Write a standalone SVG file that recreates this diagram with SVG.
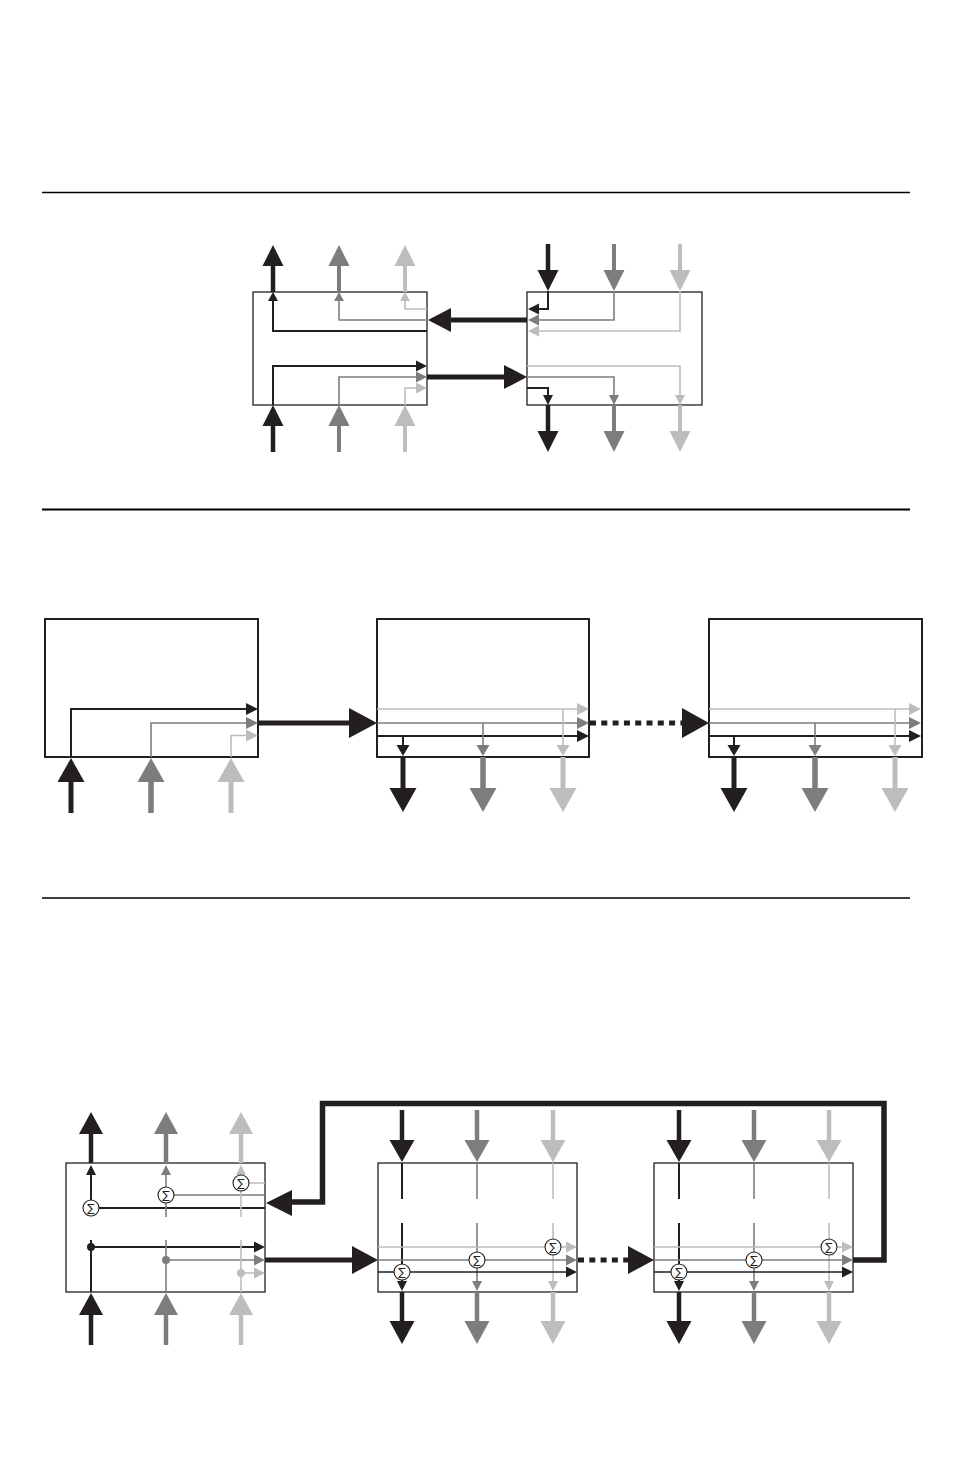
<svg xmlns="http://www.w3.org/2000/svg" width="954" height="1474" viewBox="0 0 954 1474">
<style>
.bx{fill:none;stroke:#231f20;stroke-width:1.3}
.bx2{fill:none;stroke:#231f20;stroke-width:2}
.k{stroke:#231f20;fill:none}
.g{stroke:#7d7d7d;fill:none}
.l{stroke:#bdbdbd;fill:none}
.fk{fill:#231f20}
.fg{fill:#7d7d7d}
.fl{fill:#bdbdbd}
.t{stroke-width:1.6}
.tk{stroke-width:2}
.sh{stroke-width:4.5}
.shl{stroke-width:4}
.fb{stroke-width:5.5;stroke-linejoin:miter}
.dot{stroke-dasharray:6 5.3}
.sig circle{fill:#fff;stroke:#231f20;stroke-width:1.1}
.sig text{font-family:"DejaVu Sans",sans-serif;font-size:11px;fill:#231f20;text-anchor:middle}
.rule{stroke:#000}
</style>
<defs>
<g id="sg" class="sig"><circle cx="0" cy="0" r="8"/><text x="0" y="4">∑</text></g>
</defs>

<g id="rules">
<line class="rule" x1="42" y1="192.5" x2="910" y2="192.5" stroke-width="1.3"/>
<line class="rule" x1="42" y1="509.5" x2="910" y2="509.5" stroke-width="2"/>
<line class="rule" x1="42" y1="898" x2="910" y2="898" stroke-width="1.3"/>
</g>

<!-- ================= SECTION 1 ================= -->
<g id="s1-node1">
<rect class="bx" x="253" y="292" width="174" height="113"/>
<path class="k tk" d="M273,301 V331 H427"/>
<path class="g t" d="M339,301 V320 H427"/>
<path class="l t" d="M405,301 V309 H427"/>
<polygon class="fk" points="273,292 268,301 278,301"/>
<polygon class="fg" points="339,292 334,301 344,301"/>
<polygon class="fl" points="405,292 400,301 410,301"/>
<path class="k tk" d="M273,405 V366 H417"/>
<path class="g t" d="M339,405 V377 H417"/>
<path class="l t" d="M405,405 V388 H417"/>
<polygon class="fk" points="427,366 416,360.5 416,371.5"/>
<polygon class="fg" points="427,377 416,371.5 416,382.5"/>
<polygon class="fl" points="427,388 416,382.5 416,393.5"/>
</g>
<g id="s1-node2">
<rect class="bx" x="527" y="292" width="175" height="113"/>
<path class="k tk" d="M548,291 V309 H537"/>
<path class="g t" d="M614,291 V320 H537"/>
<path class="l t" d="M680,291 V331 H537"/>
<polygon class="fk" points="528,309 539,303.5 539,314.5"/>
<polygon class="fg" points="528,320 539,314.5 539,325.5"/>
<polygon class="fl" points="528,331 539,325.5 539,336.5"/>
<path class="l t" d="M527,366 H680 V396"/>
<path class="g t" d="M527,377 H614 V396"/>
<path class="k tk" d="M527,388 H548 V396"/>
<polygon class="fl" points="680,405 675,395 685,395"/>
<polygon class="fg" points="614,405 609,395 619,395"/>
<polygon class="fk" points="548,405 543,395 553,395"/>
</g>
<g id="s1-connectors">
<path class="k sh" d="M273,292 V264"/><polygon class="fk" points="273,245 262.5,266 283.5,266"/>
<path class="g shl" d="M339,292 V264"/><polygon class="fg" points="339,245 328.5,266 349.5,266"/>
<path class="l shl" d="M405,292 V264"/><polygon class="fl" points="405,245 394.5,266 415.5,266"/>
<path class="k sh" d="M273,452 V424"/><polygon class="fk" points="273,405 262.5,426 283.5,426"/>
<path class="g shl" d="M339,452 V424"/><polygon class="fg" points="339,405 328.5,426 349.5,426"/>
<path class="l shl" d="M405,452 V424"/><polygon class="fl" points="405,405 394.5,426 415.5,426"/>
<path class="k sh" d="M548,244 V272"/><polygon class="fk" points="548,291 537.5,270 558.5,270"/>
<path class="g shl" d="M614,244 V272"/><polygon class="fg" points="614,291 603.5,270 624.5,270"/>
<path class="l shl" d="M680,244 V272"/><polygon class="fl" points="680,291 669.5,270 690.5,270"/>
<path class="k sh" d="M548,405 V434"/><polygon class="fk" points="548,452 537.5,431 558.5,431"/>
<path class="g shl" d="M614,405 V434"/><polygon class="fg" points="614,452 603.5,431 624.5,431"/>
<path class="l shl" d="M680,405 V434"/><polygon class="fl" points="680,452 669.5,431 690.5,431"/>
<path class="k" stroke-width="5" d="M449,320 H527"/><polygon class="fk" points="428,320 451,308 451,332"/>
<path class="k" stroke-width="5" d="M427,377 H506"/><polygon class="fk" points="527,377 504,365 504,389"/>
</g>

<!-- ================= SECTION 2 ================= -->
<g id="s2-node1">
<rect class="bx2" x="45" y="619" width="213" height="138"/>
<path class="k tk" d="M71,757 V709 H247"/>
<path class="g t" d="M151,757 V723 H247"/>
<path class="l t" d="M231,757 V735.5 H247"/>
<polygon class="fk" points="258,709 246,703 246,715"/>
<polygon class="fg" points="258,723 246,717 246,729"/>
<polygon class="fl" points="258,735.5 246,729.5 246,741.5"/>
</g>
<g id="s2-node2">
<rect class="bx2" x="377" y="619" width="212" height="138"/>
<path class="l t" d="M377,709 H578"/>
<path class="g t" d="M377,723 H578"/>
<path class="k tk" d="M377,736 H578"/>
<polygon class="fl" points="589,709 577,703 577,715"/>
<polygon class="fg" points="589,723 577,717 577,729"/>
<polygon class="fk" points="589,736 577,730 577,742"/>
<path class="l t" d="M563,709 V746"/><polygon class="fl" points="563,756 556.5,745 569.5,745"/>
<path class="g t" d="M483,723 V746"/><polygon class="fg" points="483,756 476.5,745 489.5,745"/>
<path class="k tk" d="M403,736 V746"/><polygon class="fk" points="403,756 396.5,745 409.5,745"/>
</g>
<g id="s2-node3">
<rect class="bx2" x="709" y="619" width="213" height="138"/>
<path class="l t" d="M709,709 H910"/>
<path class="g t" d="M709,723 H910"/>
<path class="k tk" d="M709,736 H910"/>
<polygon class="fl" points="921,709 909,703 909,715"/>
<polygon class="fg" points="921,723 909,717 909,729"/>
<polygon class="fk" points="921,736 909,730 909,742"/>
<path class="l t" d="M895,709 V746"/><polygon class="fl" points="895,756 888.5,745 901.5,745"/>
<path class="g t" d="M815,723 V746"/><polygon class="fg" points="815,756 808.5,745 821.5,745"/>
<path class="k tk" d="M734,736 V746"/><polygon class="fk" points="734,756 727.5,745 740.5,745"/>
</g>
<g id="s2-connectors">
<path class="k" stroke-width="5" d="M71,813 V780"/><polygon class="fk" points="71,758 57.5,782 84.5,782"/>
<path class="g" stroke-width="5.5" d="M151,813 V780"/><polygon class="fg" points="151,758 137.5,782 164.5,782"/>
<path class="l" stroke-width="5" d="M231,813 V780"/><polygon class="fl" points="231,758 217.5,782 244.5,782"/>
<path class="k" stroke-width="5" d="M403,757 V790"/><polygon class="fk" points="403,812 389.5,788 416.5,788"/>
<path class="g" stroke-width="5.5" d="M483,757 V790"/><polygon class="fg" points="483,812 469.5,788 496.5,788"/>
<path class="l" stroke-width="5" d="M563,757 V790"/><polygon class="fl" points="563,812 549.5,788 576.5,788"/>
<path class="k" stroke-width="5" d="M734,757 V790"/><polygon class="fk" points="734,812 720.5,788 747.5,788"/>
<path class="g" stroke-width="5.5" d="M815,757 V790"/><polygon class="fg" points="815,812 801.5,788 828.5,788"/>
<path class="l" stroke-width="5" d="M895,757 V790"/><polygon class="fl" points="895,812 881.5,788 908.5,788"/>
<path class="k" stroke-width="5" d="M258,723 H351"/><polygon class="fk" points="377,723 349,708 349,738"/>
<path class="k dot" stroke-width="5" d="M590,723 H683"/><polygon class="fk" points="709,723 682,708 682,738"/>
</g>

<!-- ================= SECTION 3 ================= -->
<g id="s3-node1">
<rect class="bx" x="66" y="1163" width="199" height="129"/>
<path class="k tk" d="M91,1175 V1208 H265"/>
<path class="g t" d="M166,1175 V1217 M166,1195 H265"/>
<path class="l t" d="M241,1175 V1217 M241,1183 H265"/>
<polygon class="fk" points="91,1165 86,1175 96,1175"/>
<polygon class="fg" points="166,1165 161,1175 171,1175"/>
<polygon class="fl" points="241,1165 236,1175 246,1175"/>
<use href="#sg" x="91" y="1208"/>
<use href="#sg" x="166" y="1195"/>
<use href="#sg" x="241" y="1183"/>
<path class="k tk" d="M91,1240 V1292 M91,1247 H255"/>
<path class="g t" d="M166,1240 V1292 M166,1260 H255"/>
<path class="l t" d="M241,1240 V1292 M241,1273 H255"/>
<circle class="fk" cx="91" cy="1247" r="4"/>
<circle class="fg" cx="166" cy="1260" r="4"/>
<circle class="fl" cx="241" cy="1273" r="4"/>
<polygon class="fk" points="265,1247 254,1241.5 254,1252.5"/>
<polygon class="fg" points="265,1260 254,1254.5 254,1265.5"/>
<polygon class="fl" points="265,1273 254,1267.5 254,1278.5"/>
</g>
<g id="s3-node2">
<rect class="bx" x="378" y="1163" width="199" height="129"/>
<path class="k tk" d="M402,1163 V1199 M402,1223 V1282"/>
<path class="g t" d="M477,1163 V1199 M477,1223 V1282"/>
<path class="l t" d="M553,1163 V1199 M553,1223 V1282"/>
<path class="l t" d="M378,1247 H566"/>
<path class="g t" d="M378,1260 H566"/>
<path class="k t" d="M378,1272 H566"/>
<polygon class="fl" points="577,1247 566,1241.5 566,1252.5"/>
<polygon class="fg" points="577,1260 566,1254.5 566,1265.5"/>
<polygon class="fk" points="577,1272 566,1266.5 566,1277.5"/>
<polygon class="fk" points="402,1291 397,1281 407,1281"/>
<polygon class="fg" points="477,1291 472,1281 482,1281"/>
<polygon class="fl" points="553,1291 548,1281 558,1281"/>
<use href="#sg" x="553" y="1247"/>
<use href="#sg" x="477" y="1260"/>
<use href="#sg" x="402" y="1272"/>
</g>
<g id="s3-node3">
<rect class="bx" x="654" y="1163" width="199" height="129"/>
<path class="k tk" d="M679,1163 V1199 M679,1223 V1282"/>
<path class="g t" d="M754,1163 V1199 M754,1223 V1282"/>
<path class="l t" d="M829,1163 V1199 M829,1223 V1282"/>
<path class="l t" d="M654,1247 H842"/>
<path class="g t" d="M654,1260 H842"/>
<path class="k t" d="M654,1272 H842"/>
<polygon class="fl" points="853,1247 842,1241.5 842,1252.5"/>
<polygon class="fg" points="853,1260 842,1254.5 842,1265.5"/>
<polygon class="fk" points="853,1272 842,1266.5 842,1277.5"/>
<polygon class="fk" points="679,1291 674,1281 684,1281"/>
<polygon class="fg" points="754,1291 749,1281 759,1281"/>
<polygon class="fl" points="829,1291 824,1281 834,1281"/>
<use href="#sg" x="829" y="1247"/>
<use href="#sg" x="754" y="1260"/>
<use href="#sg" x="679" y="1272"/>
</g>
<g id="s3-connectors">
<path class="k" stroke-width="4.5" d="M91,1163 V1131"/><polygon class="fk" points="91,1112 79,1134 103,1134"/>
<path class="g" stroke-width="4.5" d="M166,1163 V1131"/><polygon class="fg" points="166,1112 154,1134 178,1134"/>
<path class="l" stroke-width="4.5" d="M241,1163 V1131"/><polygon class="fl" points="241,1112 229,1134 253,1134"/>
<path class="k" stroke-width="4.5" d="M91,1345 V1313"/><polygon class="fk" points="91,1293 79,1315 103,1315"/>
<path class="g" stroke-width="4.5" d="M166,1345 V1313"/><polygon class="fg" points="166,1293 154,1315 178,1315"/>
<path class="l" stroke-width="4.5" d="M241,1345 V1313"/><polygon class="fl" points="241,1293 229,1315 253,1315"/>

<path class="k" stroke-width="4.5" d="M402,1110 V1142"/><polygon class="fk" points="402,1162 389.5,1140 414.5,1140"/>
<path class="g" stroke-width="4.5" d="M477,1110 V1142"/><polygon class="fg" points="477,1162 464.5,1140 489.5,1140"/>
<path class="l" stroke-width="4.5" d="M553,1110 V1142"/><polygon class="fl" points="553,1162 540.5,1140 565.5,1140"/>
<path class="k" stroke-width="4.5" d="M402,1292 V1323"/><polygon class="fk" points="402,1344 389.5,1321 414.5,1321"/>
<path class="g" stroke-width="4.5" d="M477,1292 V1323"/><polygon class="fg" points="477,1344 464.5,1321 489.5,1321"/>
<path class="l" stroke-width="4.5" d="M553,1292 V1323"/><polygon class="fl" points="553,1344 540.5,1321 565.5,1321"/>

<path class="k" stroke-width="4.5" d="M679,1110 V1142"/><polygon class="fk" points="679,1162 666.5,1140 691.5,1140"/>
<path class="g" stroke-width="4.5" d="M754,1110 V1142"/><polygon class="fg" points="754,1162 741.5,1140 766.5,1140"/>
<path class="l" stroke-width="4.5" d="M829,1110 V1142"/><polygon class="fl" points="829,1162 816.5,1140 841.5,1140"/>
<path class="k" stroke-width="4.5" d="M679,1292 V1323"/><polygon class="fk" points="679,1344 666.5,1321 691.5,1321"/>
<path class="g" stroke-width="4.5" d="M754,1292 V1323"/><polygon class="fg" points="754,1344 741.5,1321 766.5,1321"/>
<path class="l" stroke-width="4.5" d="M829,1292 V1323"/><polygon class="fl" points="829,1344 816.5,1321 841.5,1321"/>

<path class="k" stroke-width="5" d="M265,1260 H355"/><polygon class="fk" points="378,1260 352,1246 352,1274"/>
<path class="k dot" stroke-width="5" d="M578,1260 H630"/><polygon class="fk" points="654,1260 628,1246 628,1274"/>
<path class="k fb" d="M853,1260 H884 V1103.5 H322.5 V1202 H290"/><polygon class="fk" points="266,1203 292,1190 292,1216"/>
</g>
</svg>
